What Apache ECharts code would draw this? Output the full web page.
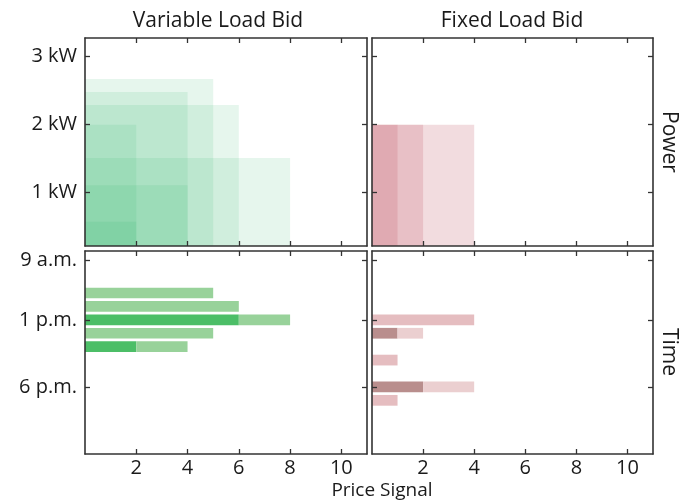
<!DOCTYPE html>
<html><head><meta charset="utf-8">
<script src="https://cdn.jsdelivr.net/npm/echarts@6/dist/echarts.min.js"></script>
<style>html,body{margin:0;padding:0;background:#fff}#c{width:681px;height:503px}</style>
</head><body><div id="c"></div>
<script>
// ---- tick values / labels ----
const priceTicks = [2, 4, 6, 8, 10];
const powerTicks = [1, 2, 3];
const powerTickLabels = ['1 kW', '2 kW', '3 kW'];
const timeTicks = [8.56, 13, 18];
const timeTickLabels = ['9 a.m.', '1 p.m.', '6 p.m.'];

// ---- power vs price bids (rectangles from origin) ----
const varBidPrice = [5, 4, 6, 2, 8, 4, 2];
const varBidPower = [2.67, 2.48, 2.29, 2.0, 1.51, 1.11, 0.57];
const fixBidPrice = [1, 2, 4];
const fixBidPower = [2, 2, 2];

// ---- time bars: hour, firm price, max price ----
const varHour = [11, 12, 13, 14, 15];
const varFirmPrice = [0, 0, 6, 0, 2];
const varMaxPrice = [5, 6, 8, 5, 4];
const fixHour = [13, 14, 16, 18, 19];
const fixFirmPrice = [0, 1, 0, 2, 0];
const fixMaxPrice = [4, 2, 1, 4, 1];

const FONT = 'Open Sans';
const AX = '#333';
const TXT = '#1a1a1a';

const chart = echarts.init(document.getElementById('c'), null, {renderer: 'canvas'});

const grids = [
  {left: 85, top: 38, width: 282, height: 208},
  {left: 372, top: 38, width: 281, height: 208},
  {left: 85, top: 251, width: 282, height: 203},
  {left: 372, top: 251, width: 281, height: 203}
];

function lineStyle() { return {color: AX, width: 1.6}; }
function tickStyle() { return {color: AX, width: 1.3}; }

const xAxis = [], yAxis = [];
grids.forEach((g, gi) => {
  const bottomRow = gi >= 2;
  xAxis.push({
    type: 'value', gridIndex: gi, position: 'bottom', min: 0, max: 11, z: 5,
    axisLine: {show: true, onZero: false, lineStyle: lineStyle()},
    axisTick: {show: true, inside: true, length: 5, customValues: priceTicks, lineStyle: tickStyle()},
    axisLabel: {show: bottomRow, customValues: priceTicks, color: TXT, fontFamily: FONT, fontSize: 20, margin: 4},
    splitLine: {show: false}
  });
  xAxis.push({
    type: 'value', gridIndex: gi, position: 'top', min: 0, max: 11, z: 5,
    axisLine: {show: true, onZero: false, lineStyle: lineStyle()},
    axisTick: {show: true, inside: true, length: 5, customValues: priceTicks, lineStyle: tickStyle()},
    axisLabel: {show: false, customValues: priceTicks},
    splitLine: {show: false}
  });
  const isPower = gi < 2;
  const leftCol = gi % 2 === 0;
  const ticks = isPower ? powerTicks : timeTicks;
  const labels = isPower ? powerTickLabels : timeTickLabels;
  const base = {
    type: 'value', gridIndex: gi, z: 5,
    min: isPower ? 0.215 : 7.87, max: isPower ? 3.275 : 23,
    inverse: !isPower,
    axisLine: {show: true, onZero: false, lineStyle: lineStyle()},
    axisTick: {show: true, inside: true, length: 5, customValues: ticks, lineStyle: tickStyle()},
    splitLine: {show: false}
  };
  yAxis.push(Object.assign({}, base, {
    position: 'left',
    axisLabel: {show: leftCol, customValues: ticks, color: TXT, fontFamily: FONT, fontSize: 20, margin: 8,
      formatter: v => { const i = ticks.findIndex(t => Math.abs(t - v) < 1e-6); return i >= 0 ? labels[i] : ''; }}
  }));
  yAxis.push(Object.assign({}, base, {
    position: 'right',
    axisLabel: {show: false, customValues: ticks}
  }));
});

function rectShape(params, api, x0, x1, y0, y1) {
  const p0 = api.coord([x0, y0]);
  const p1 = api.coord([x1, y1]);
  return echarts.graphic.clipRectByRect({
    x: Math.min(p0[0], p1[0]), y: Math.min(p0[1], p1[1]),
    width: Math.abs(p1[0] - p0[0]), height: Math.abs(p1[1] - p0[1])
  }, {
    x: params.coordSys.x, y: params.coordSys.y,
    width: params.coordSys.width, height: params.coordSys.height
  });
}

function bidRectSeries(gi, prices, powers, color) {
  return {
    type: 'custom', xAxisIndex: gi * 2, yAxisIndex: gi * 2, z: 2,
    data: prices.map((p, i) => [p, powers[i]]),
    renderItem: (params, api) => {
      const shape = rectShape(params, api, 0, api.value(0), 0, api.value(1));
      return shape && {type: 'rect', shape, style: {fill: color}};
    }
  };
}

function timeBarSeries(gi, hours, firm, maxP, firmColor, flexColor, soloColor) {
  return {
    type: 'custom', xAxisIndex: gi * 2, yAxisIndex: gi * 2, z: 2,
    data: hours.map((h, i) => [h, firm[i], maxP[i]]),
    renderItem: (params, api) => {
      const h = api.value(0), f = api.value(1), m = api.value(2);
      const children = [];
      if (f > 0) {
        const s = rectShape(params, api, 0, f, h - 0.4, h + 0.4);
        if (s) children.push({type: 'rect', shape: s, style: {fill: firmColor}});
      }
      const s2 = rectShape(params, api, f, m, h - 0.4, h + 0.4);
      if (s2) children.push({type: 'rect', shape: s2, style: {fill: f > 0 ? flexColor : soloColor}});
      return {type: 'group', children};
    }
  };
}

const series = [
  bidRectSeries(0, varBidPrice, varBidPower, 'rgba(30,170,95,0.11)'),
  bidRectSeries(1, fixBidPrice, fixBidPower, 'rgba(190,80,95,0.2)'),
  timeBarSeries(2, varHour, varFirmPrice, varMaxPrice, '#4cbe67', '#98d29a', '#98d29a'),
  timeBarSeries(3, fixHour, fixFirmPrice, fixMaxPrice, '#b98e8d', '#ebcfd0', '#e5bdc0')
];

// left axis line slightly overshoots the bottom edge in the reference
const graphic = [
  {type: 'text', x: 218, y: 21, style: {text: 'Variable Load Bid', font: `21px "${FONT}"`, fill: TXT, align: 'center', verticalAlign: 'middle'}},
  {type: 'text', x: 512, y: 21, style: {text: 'Fixed Load Bid', font: `21px "${FONT}"`, fill: TXT, align: 'center', verticalAlign: 'middle'}},
  {type: 'text', x: 382, y: 491, style: {text: 'Price Signal', font: `19px "${FONT}"`, fill: TXT, align: 'center', verticalAlign: 'middle'}},
  {type: 'text', x: 669, y: 142, rotation: -Math.PI / 2, style: {text: 'Power', font: `21px "${FONT}"`, fill: TXT, align: 'center', verticalAlign: 'middle'}},
  {type: 'text', x: 669, y: 352, rotation: -Math.PI / 2, style: {text: 'Time', font: `21px "${FONT}"`, fill: TXT, align: 'center', verticalAlign: 'middle'}}
];

chart.setOption({animation: false, grid: grids, xAxis, yAxis, series, graphic});
</script></body></html>
